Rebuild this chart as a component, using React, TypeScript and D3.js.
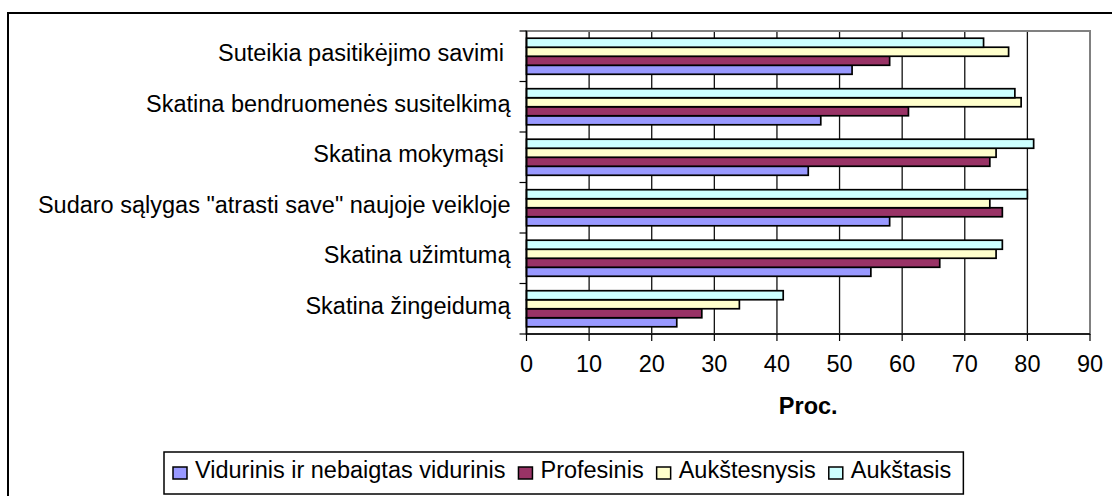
import React, { useEffect, useRef } from "react";
import * as d3 from "d3";

const categories = [
  "Suteikia pasitikėjimo savimi ",
  "Skatina bendruomenės susitelkimą",
  "Skatina mokymąsi ",
  "Sudaro sąlygas \"atrasti save\" naujoje veikloje",
  "Skatina užimtumą",
  "Skatina žingeidumą",
];

const seriesNames = ["Vidurinis ir nebaigtas vidurinis", "Profesinis", "Aukštesnysis", "Aukštasis"];
const seriesColors = ["#9999FF", "#993366", "#FFFFCC", "#CCFFFF"];

const vidurinis = [52, 47, 45, 58, 55, 24];
const profesinis = [58, 61, 74, 76, 66, 28];
const aukstesnysis = [77, 79, 75, 74, 75, 34];
const aukstasis = [73, 78, 81, 80, 76, 41];
const seriesValues = [vidurinis, profesinis, aukstesnysis, aukstasis];

const xTicks = [0, 10, 20, 30, 40, 50, 60, 70, 80, 90];
const axisTitle = "Proc.";

export default function App() {
  const ref = useRef<SVGSVGElement | null>(null);

  useEffect(() => {
    const width = 1112;
    const height = 496;
    const font = "'Liberation Sans', Arial, sans-serif";
    const fs = 23.5;
    const margin = { top: 31, right: 22, bottom: 162, left: 526.5 };
    const svg = d3.select(ref.current);
    svg.selectAll("*").remove();

    // outer chart frame
    svg.append("rect")
      .attr("x", 8).attr("y", 13)
      .attr("width", width).attr("height", height)
      .attr("fill", "#fff").attr("stroke", "#000").attr("stroke-width", 2);

    const x = d3.scaleLinear()
      .domain([0, 90])
      .range([margin.left, width - margin.right]);
    const y = d3.scaleBand()
      .domain(categories)
      .range([margin.top, height - margin.bottom]);
    // Excel draws the last series on top inside each category
    const order = [3, 2, 1, 0];
    const ySub = d3.scaleBand<number>()
      .domain(order)
      .range([0, y.bandwidth()])
      .paddingOuter(0.8);

    const plotBottom = height - margin.bottom;

    // gridlines
    svg.append("g")
      .selectAll("line")
      .data(xTicks.slice(1, -1))
      .join("line")
      .attr("x1", d => x(d)).attr("x2", d => x(d))
      .attr("y1", margin.top).attr("y2", plotBottom)
      .attr("stroke", "#111").attr("stroke-width", 1.3);

    // plot border
    svg.append("rect")
      .attr("x", x(0)).attr("y", margin.top)
      .attr("width", x(90) - x(0)).attr("height", plotBottom - margin.top)
      .attr("fill", "none").attr("stroke", "#808080").attr("stroke-width", 2);

    // bars
    seriesValues.forEach((vals, si) => {
      svg.append("g")
        .selectAll("rect")
        .data(vals)
        .join("rect")
        .attr("x", x(0))
        .attr("y", (d, i) => (y(categories[i]) ?? 0) + (ySub(si) ?? 0))
        .attr("width", d => x(d) - x(0))
        .attr("height", ySub.bandwidth())
        .attr("fill", seriesColors[si])
        .attr("stroke", "#000")
        .attr("stroke-width", 1.7);
    });

    // y axis
    svg.append("line")
      .attr("x1", x(0)).attr("x2", x(0))
      .attr("y1", margin.top).attr("y2", plotBottom)
      .attr("stroke", "#000").attr("stroke-width", 1.5);
    svg.append("g")
      .selectAll("line")
      .data(d3.range(categories.length + 1))
      .join("line")
      .attr("x1", x(0) - 7).attr("x2", x(0))
      .attr("y1", i => margin.top + i * y.step())
      .attr("y2", i => margin.top + i * y.step())
      .attr("stroke", "#000").attr("stroke-width", 1.2);
    svg.append("g")
      .selectAll("text")
      .data(categories)
      .join("text")
      .attr("x", x(0) - 16)
      .attr("y", d => (y(d) ?? 0) + y.bandwidth() / 2 + 5)
      .attr("text-anchor", "end")
      .attr("font-family", font).attr("font-size", fs)
      .style("white-space", "pre")
      .text(d => d);

    // x axis
    svg.append("line")
      .attr("x1", x(0)).attr("x2", x(90))
      .attr("y1", plotBottom).attr("y2", plotBottom)
      .attr("stroke", "#000").attr("stroke-width", 1.5);
    svg.append("g")
      .selectAll("line")
      .data(xTicks)
      .join("line")
      .attr("x1", d => x(d)).attr("x2", d => x(d))
      .attr("y1", plotBottom).attr("y2", plotBottom + 7)
      .attr("stroke", "#000").attr("stroke-width", 1.2);
    svg.append("g")
      .selectAll("text")
      .data(xTicks)
      .join("text")
      .attr("x", d => x(d))
      .attr("y", plotBottom + 38)
      .attr("text-anchor", "middle")
      .attr("font-family", font).attr("font-size", fs)
      .text(d => d);
    svg.append("text")
      .attr("x", (x(0) + x(90)) / 2)
      .attr("y", plotBottom + 80)
      .attr("text-anchor", "middle")
      .attr("font-family", font).attr("font-size", fs).attr("font-weight", "bold")
      .text(axisTitle);

    // legend
    const legend = svg.append("g");
    const box = legend.append("rect")
      .attr("fill", "#fff").attr("stroke", "#000").attr("stroke-width", 1.5);
    let cx = 173;
    let textEnd = cx;
    const ly = 478;
    seriesNames.forEach((name, i) => {
      legend.append("rect")
        .attr("x", cx).attr("y", ly - 11)
        .attr("width", 14).attr("height", 12)
        .attr("fill", seriesColors[i]).attr("stroke", "#000").attr("stroke-width", 1.5);
      const t = legend.append("text")
        .attr("x", cx + 22).attr("y", ly)
        .attr("font-family", font).attr("font-size", fs)
        .text(name);
      const w = (t.node() as SVGTextElement).getComputedTextLength();
      textEnd = cx + 22 + w;
      cx = textEnd + 13;
    });
    box.attr("x", 164).attr("y", 452).attr("width", textEnd + 12 - 164).attr("height", 42);
  }, []);

  return (
    <svg
      ref={ref}
      width={1112}
      height={496}
      style={{ position: "absolute", left: 0, top: 0, display: "block" }}
    />
  );
}
